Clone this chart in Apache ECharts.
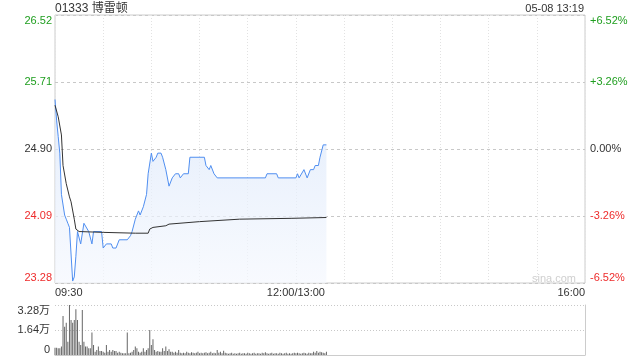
<!DOCTYPE html>
<html><head><meta charset="utf-8">
<script src="https://cdn.jsdelivr.net/npm/echarts@6/dist/echarts.min.js"></script>
<style>html,body{margin:0;padding:0;background:#fff}#c{width:640px;height:360px}</style>
</head><body><div id="c"></div>
<script>
const stockTitle = '01333 博雷顿';
const stampText = '05-08 13:19';
const prevClose = 24.90;
const pctRange = 6.52;
const xLabelPos = [0, 150, 330];
const xLabelText = ['09:30', '12:00/13:00', '16:00'];

const priceTimes = ['09:30','09:31','09:32','09:33','09:34','09:35','09:36','09:37','09:38','09:39','09:41','09:42','09:43','09:44','09:45','09:46','09:47','09:48','09:49','09:51','09:53','09:54','09:59','10:00','10:01','10:02','10:05','10:06','10:08','10:10','10:15','10:17','10:18','10:20','10:22','10:23','10:25','10:27','10:28','10:30','10:31','10:32','10:33','10:34','10:36','10:37','10:38','10:39','10:41','10:42','10:43','10:45','10:47','10:48','10:50','10:53','10:54','11:03','11:04','11:05','11:06','11:07','11:09','11:11','11:41','11:42','11:48','11:49','12:00','13:01','13:02','13:05','13:06','13:07','13:09','13:11','13:12','13:14','13:15','13:17','13:19'];
const prices = [25.50,25.25,25.05,24.85,24.35,24.35,24.10,24.05,24.00,23.95,23.30,23.35,23.60,23.90,23.90,23.75,23.75,24.00,24.00,23.90,23.75,23.90,23.90,23.70,23.70,23.75,23.75,23.70,23.70,23.80,23.80,23.85,23.90,24.05,24.15,24.10,24.20,24.35,24.60,24.85,24.75,24.75,24.80,24.85,24.85,24.80,24.80,24.65,24.45,24.45,24.55,24.60,24.60,24.55,24.60,24.60,24.80,24.80,24.70,24.70,24.65,24.70,24.60,24.55,24.55,24.60,24.60,24.55,24.55,24.60,24.55,24.65,24.65,24.55,24.65,24.65,24.70,24.70,24.80,24.95,24.95];

const avgTimes = ['09:30','09:32','09:34','09:35','09:37','09:39','09:40','09:42','09:43','09:45','10:00','10:20','10:28','10:29','10:31','10:39','10:41','11:00','11:25','11:57','13:19'];
const avgPrices = [25.43,25.29,25.07,24.70,24.48,24.32,24.26,24.05,23.93,23.90,23.89,23.88,23.88,23.93,23.95,23.97,23.99,24.02,24.05,24.06,24.07];

// per-minute volume from 09:30 (index 0) to 13:19 (index 169); index 150 = 12:00, 151 = 13:01
const volumes = [
4800,4800,4400,4400,5500,25600,18600,21200,8700,32800,
23000,21200,23000,30000,23000,8700,6600,29500,8700,5500,
5500,4400,4400,14700,6600,2200,3300,5500,2600,2600,
2200,1500,6600,2200,3300,2200,3300,2600,2600,1500,
2200,1500,1100,1100,1100,14700,1100,1500,2200,3300,
5500,4400,2200,1500,2200,4400,2200,3300,4400,16400,
6600,10300,3300,2200,2600,2200,2200,4400,2600,5500,
2600,3700,2200,2200,1500,2200,1500,3300,1500,1100,
1500,1100,2200,1500,1100,1800,1500,1100,1500,2200,
1100,1500,1100,1500,1800,1100,1500,2200,1100,1500,
1100,3300,1500,2200,1100,2800,1500,1100,800,1100,
1500,800,1100,800,1100,1500,800,1100,1100,800,
1500,1100,800,1100,1500,800,1100,1100,800,1500,
1100,1800,1100,800,1100,1500,800,1100,1100,800,
1500,1100,800,1100,1500,800,1100,800,1100,1500,
1100,1500,1100,800,1100,1500,1100,800,1500,1100,
1100,2200,1500,2600,1500,2200,1800,1500,1100,2200];
const volMax = 32800;

function toIdx(t){
  const p = t.split(':'); const m = (+p[0])*60 + (+p[1]);
  return m <= 720 ? m - 570 : m - 780 + 150;
}
const FONT = '"Liberation Sans", Arial, "Noto Sans CJK SC", sans-serif';
const GREEN = '#1f9e1f', RED = '#ee2b2b', DARK = '#333';
function pctColor(v){ v = Number(v); return Math.abs(v) < 1e-9 ? DARK : (v > 0 ? GREEN : RED); }

const chart = echarts.init(document.getElementById('c'), null, {renderer:'canvas'});
chart.setOption({
  animation: false,
  backgroundColor: '#fff',
  title: [
    {text: stockTitle, left: 55, top: 3, padding: 0, textStyle: {fontSize: 12, fontWeight: 'normal', color: DARK, fontFamily: FONT}},
    {text: stampText, right: 56, top: 3, padding: 0, textStyle: {fontSize: 11, fontWeight: 'normal', color: DARK, fontFamily: FONT}}
  ],
  graphic: [{type: 'text', left: 532, top: 273, silent: true, style: {text: 'sina.com', fill: '#cfcfcf', font: '11px ' + FONT}}],
  grid: [
    {left: 55, right: 55, top: 15, height: 268, show: true, borderColor: '#ccc', borderWidth: 1, backgroundColor: 'transparent'},
    {left: 55, right: 55, top: 305, height: 50}
  ],
  xAxis: [
    {gridIndex: 0, type: 'value', min: 0, max: 330, interval: 30,
     axisLine: {show: false}, axisTick: {show: false},
     splitLine: {show: true, lineStyle: {color: '#e2e2e2', type: [1, 2]}},
     axisLabel: {show: true, showMinLabel: true, showMaxLabel: true, alignMinLabel: 'left', alignMaxLabel: 'right',
       margin: 4, fontSize: 11, color: DARK, fontFamily: FONT,
       formatter: function(v){ const k = xLabelPos.indexOf(Math.round(v)); return k >= 0 ? xLabelText[k] : ''; }}},
    {gridIndex: 1, type: 'value', min: 0, max: 330, interval: 30,
     axisLine: {show: true, lineStyle: {color: '#ccc'}}, axisTick: {show: false}, axisLabel: {show: false}, splitLine: {show: false}}
  ],
  yAxis: [
    {gridIndex: 0, type: 'value', position: 'left', min: -pctRange, max: pctRange, interval: pctRange/2,
     axisLine: {show: false}, axisTick: {show: false},
     splitLine: {show: true, lineStyle: {color: '#c8c8c8', type: [3, 3]}},
     axisLabel: {margin: 3, fontSize: 11, fontFamily: FONT, verticalAlignMinLabel: 'bottom', verticalAlignMaxLabel: 'top',
       formatter: function(v){ return (prevClose*(1+v/100)).toFixed(2); }, color: pctColor}},
    {gridIndex: 0, type: 'value', position: 'right', min: -pctRange, max: pctRange, interval: pctRange/2,
     axisLine: {show: false}, axisTick: {show: false}, splitLine: {show: false},
     axisLabel: {margin: 5, fontSize: 11, fontFamily: FONT, verticalAlignMinLabel: 'bottom', verticalAlignMaxLabel: 'top',
       formatter: function(v){ const s = Math.abs(v) < 1e-9 ? '' : (v > 0 ? '+' : '-'); return s + Math.abs(v).toFixed(2) + '%'; }, color: pctColor}},
    {gridIndex: 0, type: 'value', show: false, min: prevClose*(1-pctRange/100), max: prevClose*(1+pctRange/100)},
    {gridIndex: 1, type: 'value', position: 'left', min: 0, max: volMax, interval: volMax/2,
     axisLine: {show: false}, axisTick: {show: false},
     splitLine: {show: true, lineStyle: {color: '#c8c8c8', type: [1, 2]}},
     axisLabel: {margin: 5, fontSize: 11, color: DARK, fontFamily: FONT, verticalAlignMinLabel: 'bottom', verticalAlignMaxLabel: 'top',
       formatter: function(v){ return v === 0 ? '0' : (v/10000).toFixed(2) + '万'; }}},
    {gridIndex: 1, type: 'value', position: 'right', min: 0, max: volMax,
     axisLine: {show: true, lineStyle: {color: '#ccc'}}, axisTick: {show: false}, axisLabel: {show: false}, splitLine: {show: false}}
  ],
  series: [
    {type: 'line', name: 'price', xAxisIndex: 0, yAxisIndex: 2, symbol: 'none', z: 4,
     data: priceTimes.map((t, k) => [toIdx(t), prices[k]]),
     lineStyle: {color: '#4f8ef0', width: 1},
     areaStyle: {origin: 'start', color: new echarts.graphic.LinearGradient(0, 0, 0, 1, [
       {offset: 0, color: '#d9e6fa'}, {offset: 1, color: '#f5f8fe'}])}},
    {type: 'line', name: 'avg', xAxisIndex: 0, yAxisIndex: 2, symbol: 'none', z: 5,
     data: avgTimes.map((t, k) => [toIdx(t), avgPrices[k]]),
     lineStyle: {color: '#333', width: 1}},
    {type: 'bar', name: 'vol', xAxisIndex: 1, yAxisIndex: 3, barWidth: 1,
     data: volumes.map((v, i) => [i, v]), itemStyle: {color: '#666'}}
  ]
});
</script></body></html>
